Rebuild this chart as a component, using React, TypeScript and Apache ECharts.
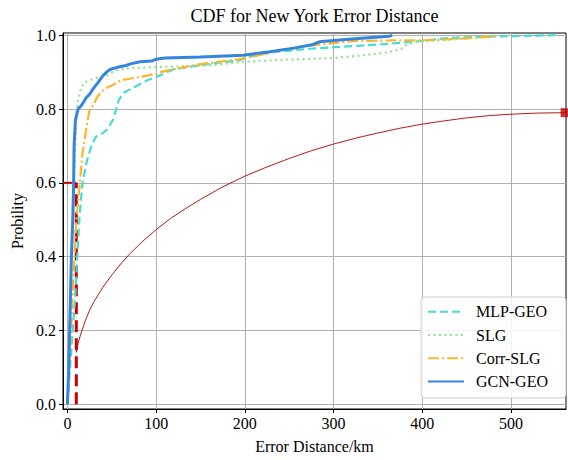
import React, { useEffect, useRef } from 'react';
import * as echarts from 'echarts';

const xTicks = [0, 100, 200, 300, 400, 500];
const yTicks = [0, 0.2, 0.4, 0.6, 0.8, 1.0];

const mlpGeo: [number, number][] = [
  [0, 0], [3, 0.1], [6, 0.2], [9, 0.3], [11, 0.4], [14, 0.52], [17, 0.6], [22, 0.66], [27, 0.7],
  [32, 0.725], [40, 0.735], [45, 0.745], [51, 0.77], [55, 0.8], [58, 0.825], [64, 0.845], [72, 0.855],
  [80, 0.865], [90, 0.878], [100, 0.887], [120, 0.908], [145, 0.917], [172, 0.926], [194, 0.932],
  [210, 0.945], [235, 0.955], [277, 0.964], [326, 0.971], [363, 0.977], [397, 0.984], [431, 0.993],
  [488, 0.997], [552, 1.0],
];

const slg: [number, number][] = [
  [0, 0], [1, 0.1], [3, 0.3], [5, 0.45], [7, 0.6], [9, 0.7], [10, 0.79], [12, 0.824], [15.6, 0.86],
  [20, 0.873], [25, 0.878], [36, 0.887], [44, 0.89], [55, 0.905], [66, 0.91], [100, 0.914],
  [119, 0.915], [164, 0.919], [198, 0.928], [240, 0.933], [300, 0.938], [330, 0.945], [360, 0.953],
  [376, 0.962], [383, 0.975], [397, 0.984], [420, 0.986], [468, 0.995], [485, 1.0],
];

const corrSlg: [number, number][] = [
  [0, 0], [2, 0.1], [4, 0.2], [6, 0.3], [8, 0.4], [10, 0.5], [14, 0.6], [17, 0.68], [19, 0.71],
  [22, 0.76], [25, 0.797], [29, 0.81], [33, 0.83], [36, 0.84], [42, 0.855], [50, 0.864], [55, 0.87],
  [60, 0.878], [70, 0.882], [82, 0.887], [100, 0.895], [104, 0.9], [145, 0.92], [194, 0.935],
  [215, 0.945], [239, 0.959], [277, 0.973], [322, 0.984], [367, 0.986], [397, 0.986], [431, 0.989],
  [485, 0.997],
];

const gcnGeo: [number, number][] = [
  [0, 0], [1.5, 0.1], [3, 0.25], [4.5, 0.4], [6, 0.5], [7, 0.6], [7.5, 0.7], [9, 0.77], [12, 0.8],
  [16, 0.81], [21, 0.83], [25, 0.84], [29, 0.855], [34, 0.87], [37, 0.88], [40, 0.89], [44, 0.9],
  [48, 0.907], [56, 0.913], [66, 0.918], [72, 0.923], [82, 0.928], [95, 0.93], [100, 0.935],
  [110, 0.938], [150, 0.941], [198, 0.946], [228, 0.955], [255, 0.965], [277, 0.975], [284, 0.982],
  [320, 0.99], [363, 0.997], [366, 1.0],
];

const refCurve: [number, number][] = [
  [10, 0.14], [12, 0.165], [15, 0.19], [20, 0.225], [25, 0.255], [30, 0.278], [35, 0.298],
  [40, 0.317], [50, 0.35], [60, 0.38], [70, 0.407], [85, 0.442], [100, 0.473], [116, 0.503],
  [133, 0.53], [150, 0.555], [175, 0.589], [200, 0.618], [225, 0.643], [250, 0.666], [275, 0.687],
  [300, 0.705], [325, 0.721], [350, 0.735], [375, 0.748], [400, 0.759], [425, 0.768], [450, 0.776],
  [475, 0.782], [500, 0.786], [530, 0.789], [561, 0.79],
];

const thresholdX = 10;
const thresholdY = 0.6;
const xMin = -5;
const xMax = 562;
const yMin = -0.013;
const yMax = 1.006;

const FONT = "'Liberation Serif', 'Times New Roman', serif";

export default function App() {
  const ref = useRef<HTMLDivElement>(null);
  useEffect(() => {
    document.body.style.margin = '0';
    const chart = echarts.init(ref.current!, null, { renderer: 'svg' });
    const option: any = {
      animation: false,
      backgroundColor: '#ffffff',
      textStyle: { fontFamily: FONT },
      graphic: [
        {
          type: 'text',
          x: 314.5,
          y: 16,
          style: {
            text: 'CDF for New York Error Distance',
            textAlign: 'center',
            textVerticalAlign: 'middle',
            fontFamily: FONT,
            fontSize: 18,
            fill: '#000',
          },
        },
      ],
      grid: {
        left: 63,
        right: 2,
        top: 33,
        bottom: 51,
        show: true,
        borderColor: '#000',
        borderWidth: 1,
        backgroundColor: 'transparent',
      },
      legend: {
        data: ['MLP-GEO', 'SLG', 'Corr-SLG', 'GCN-GEO'],
        orient: 'vertical',
        left: 421,
        top: 297,
        itemWidth: 36,
        itemHeight: 14,
        itemGap: 7.3,
        padding: [6.7, 18, 8.4, 6],
        backgroundColor: 'rgba(255,255,255,0.85)',
        borderColor: '#d0d0d0',
        borderWidth: 1,
        borderRadius: 4,
        itemStyle: { opacity: 0 },
        textStyle: { fontFamily: FONT, fontSize: 16, color: '#000', padding: [0, 0, 0, 7] },
      },
      xAxis: {
        type: 'value',
        min: xMin,
        max: xMax,
        name: 'Error Distance/km',
        nameLocation: 'middle',
        nameGap: 29,
        nameTextStyle: { fontFamily: FONT, fontSize: 16, color: '#000' },
        axisLine: { show: true, onZero: false, lineStyle: { color: '#000', width: 1 } },
        axisTick: { show: true, length: 4, inside: false, customValues: xTicks, lineStyle: { color: '#000' } },
        axisLabel: { customValues: xTicks, margin: 6, fontFamily: FONT, fontSize: 16, color: '#000' },
        splitLine: { show: true, lineStyle: { color: '#b0b0b0', width: 1 } },
      },
      yAxis: {
        type: 'value',
        min: yMin,
        max: yMax,
        name: 'Probility',
        nameLocation: 'middle',
        nameGap: 37,
        nameTextStyle: { fontFamily: FONT, fontSize: 16, color: '#000' },
        axisLine: { show: true, onZero: false, lineStyle: { color: '#000', width: 1 } },
        axisTick: { show: true, length: 4, inside: false, customValues: yTicks, lineStyle: { color: '#000' } },
        axisLabel: {
          customValues: yTicks,
          margin: 7,
          fontFamily: FONT,
          fontSize: 16,
          color: '#000',
          formatter: (v: number) => v.toFixed(1),
        },
        splitLine: { show: true, lineStyle: { color: '#b0b0b0', width: 1 } },
      },
      series: [
        {
          name: 'ref',
          type: 'line',
          data: refCurve,
          showSymbol: false,
          symbol: 'none',
          lineStyle: { color: '#b81818', width: 1 },
          z: 1,
        },
        {
          name: 'refEnd',
          type: 'scatter',
          data: [refCurve[refCurve.length - 1]],
          symbol: 'rect',
          symbolSize: 9,
          itemStyle: { color: '#c00000' },
          z: 1,
        },
        {
          name: 'thresholdV',
          type: 'line',
          data: [[thresholdX, 0], [thresholdX, thresholdY]],
          symbol: 'none',
          lineStyle: { color: '#cc0000', width: 3, type: [12, 6] },
          z: 1,
        },
        {
          name: 'thresholdH',
          type: 'line',
          data: [[xMin, thresholdY], [thresholdX, thresholdY]],
          symbol: 'none',
          lineStyle: { color: '#cc0000', width: 2 },
          z: 1,
        },
        {
          name: 'MLP-GEO',
          type: 'line',
          data: mlpGeo,
          symbol: 'none',
          itemStyle: { color: '#45dcd6' },
          lineStyle: { color: '#45dcd6', width: 2.2, type: [8, 4] },
          z: 3,
        },
        {
          name: 'SLG',
          type: 'line',
          data: slg,
          symbol: 'none',
          itemStyle: { color: '#8ee68a' },
          lineStyle: { color: '#8ee68a', width: 2.2, type: [2, 3.5] },
          z: 3,
        },
        {
          name: 'Corr-SLG',
          type: 'line',
          data: corrSlg,
          symbol: 'none',
          itemStyle: { color: '#fbb62c' },
          lineStyle: { color: '#fbb62c', width: 2.2, type: [11, 3, 2, 3] },
          z: 3,
        },
        {
          name: 'GCN-GEO',
          type: 'line',
          data: gcnGeo,
          symbol: 'none',
          itemStyle: { color: '#3585e0' },
          lineStyle: { color: '#3585e0', width: 3 },
          z: 4,
        },
      ],
    };
    chart.setOption(option);
    return () => chart.dispose();
  }, []);
  return <div ref={ref} style={{ width: 568, height: 460 }} />;
}
